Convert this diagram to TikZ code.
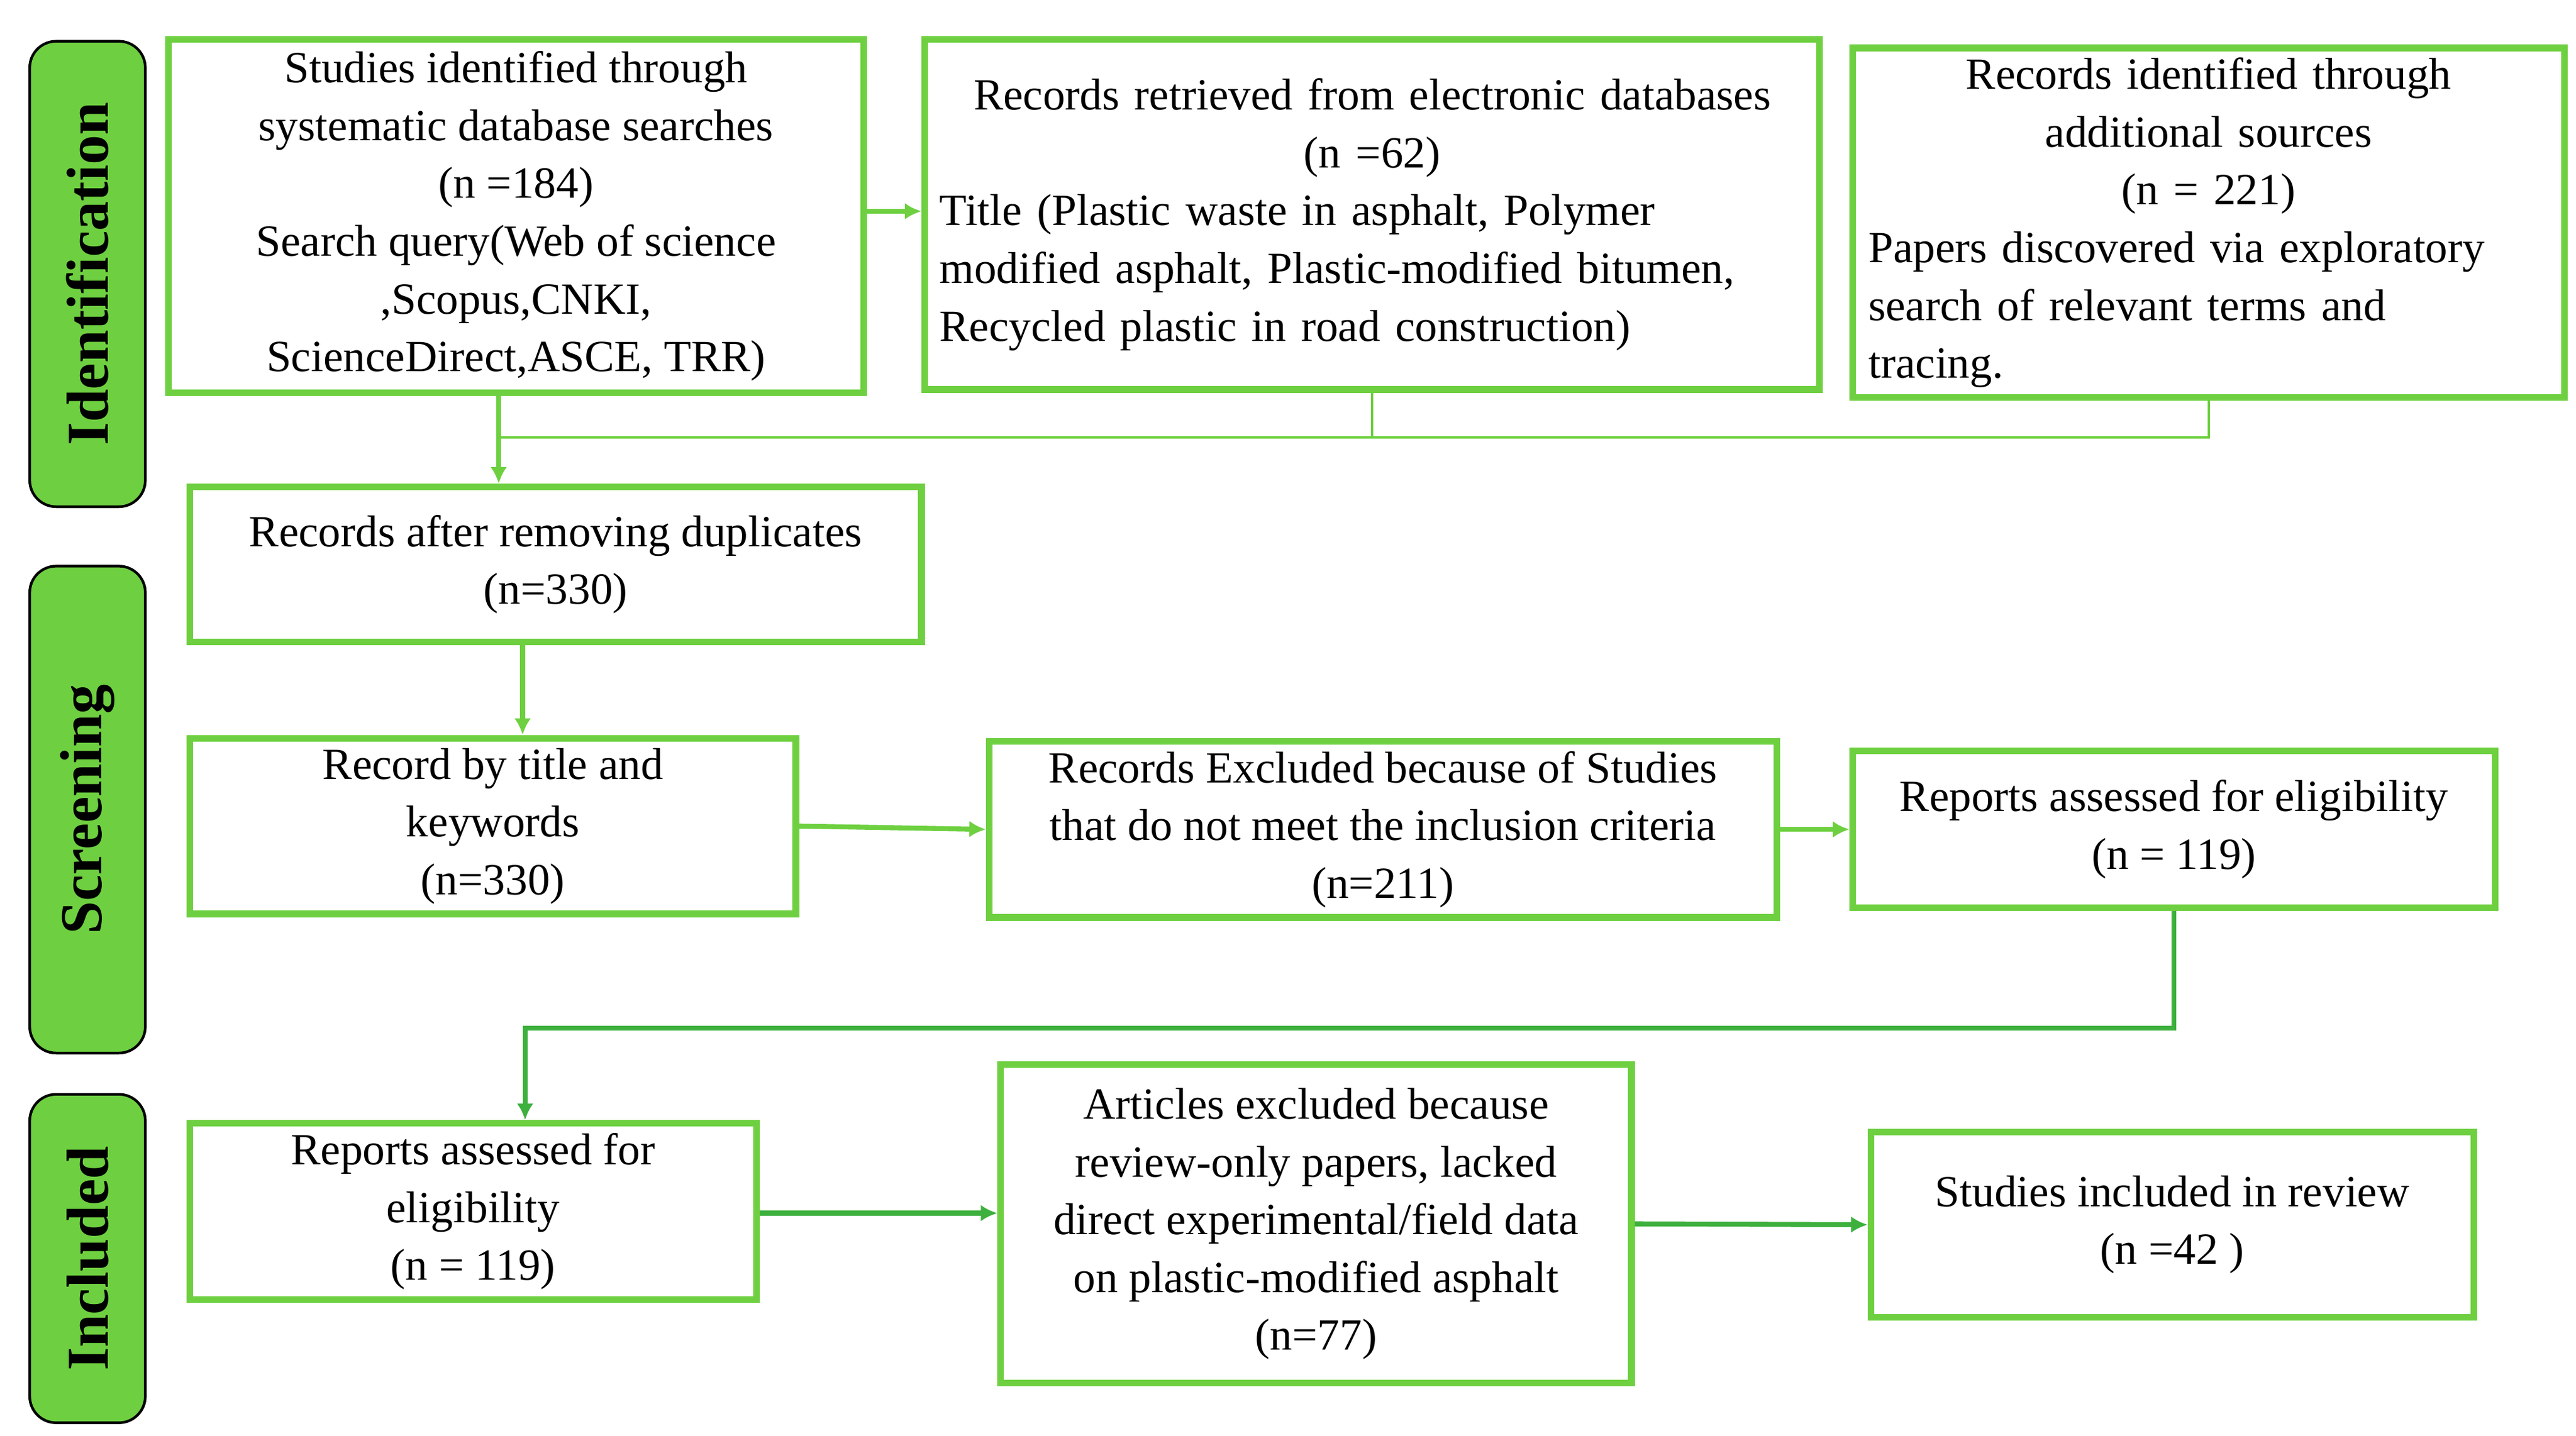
\documentclass[tikz,border=0pt]{standalone}
\usepackage{fontspec}
\setmainfont{Liberation Serif}
\usetikzlibrary{arrows.meta}
\definecolor{boxgreen}{RGB}{110,208,64}
\definecolor{linegreen}{RGB}{62,176,62}
\tikzset{
  box/.style={draw=boxgreen, line width=2pt, inner sep=3pt,
    font=\fontsize{13.5}{17.5}\selectfont, align=center},
  stage/.style={draw=black, fill=boxgreen, rounded corners=8pt, line width=0.8pt,
    minimum height=35pt, font=\fontsize{18}{20}\selectfont\bfseries, rotate=90},
  arr/.style={draw=boxgreen, line width=1.5pt, -{Latex[length=5pt,width=5pt]}},
}
\begin{document}
\begin{tikzpicture}[x=0.5pt,y=-0.5pt]
\useasboundingbox (0,0) rectangle (1560,870);

%stages
\node[stage, minimum width=141pt] at (53,166) (sid) {Identification};
\node[stage, minimum width=147.5pt] at (53,490.5) (sscr) {Screening};
\node[stage, minimum width=99.5pt] at (53,762.5) (sinc) {Included};

%boxes
\node[box, minimum width=210.5pt, minimum height=107pt] at (312.5,131) (ident)
  {Studies identified through\\ systematic database searches\\ (n =184)\\
   Search query(Web of science\\ ,Scopus,CNKI,\\ ScienceDirect,ASCE,\ TRR)};
\node[box, minimum width=271pt, minimum height=106pt, text width=262pt] at (831,130) (elec)
  {{\centering Records retrieved from electronic databases\par (n =62)\par}
   \raggedright Title (Plastic waste in asphalt, Polymer\\ modified asphalt, Plastic-modified bitumen,\\
   Recycled plastic in road construction)\par};
\node[box, minimum width=215.5pt, minimum height=103pt, text width=206pt] at (1337.5,135) (addl)
  {{\centering Records identified through\par additional sources\par (n = 221)\par}
   \raggedright Papers discovered via exploratory\\ search of relevant terms and\\ tracing.\par};
\node[box, minimum width=221.5pt, minimum height=47pt] at (336.5,342) (dup)
  {Records after removing duplicates\\ (n=330)};
\node[box, minimum width=183.5pt, minimum height=50.5pt] at (298.5,500.5) (title)
  {Record by title and\\ keywords\\ (n=330)};
\node[box, minimum width=238.5pt, minimum height=47.5pt] at (837.5,502.5) (excl)
  {Records Excluded because of Studies\\ that do not meet the inclusion criteria\\ (n=211)};
\node[box, minimum width=194.5pt, minimum height=47.5pt] at (1316.5,502.5) (elig)
  {Reports assessed for eligibility\\ (n = 119)};
\node[box, minimum width=171.5pt, minimum height=52pt] at (286.5,734) (elig2)
  {Reports assessed for\\ eligibility\\ (n = 119)};
\node[box, minimum width=191pt, minimum height=96.5pt] at (797,741.5) (art)
  {Articles excluded because\\ review-only papers, lacked\\ direct experimental/field data\\
   on plastic-modified asphalt\\ (n=77)};
\node[box, minimum width=182.5pt, minimum height=56pt] at (1315.5,742) (incl)
  {Studies included in review\\ (n =42 )};

%connectors
\coordinate (jn) at (302,265);
\coordinate (bend) at (318,623);
\draw[arr] ([yshift=1.5pt]ident.east) -- ([yshift=1.5pt]ident.east -| elec.west);
\draw[draw=boxgreen, line width=0.7pt] (elec.south) -- (elec.south |- jn) -- (jn);
\draw[draw=boxgreen, line width=0.7pt] (addl.south) -- (addl.south |- jn) -- (elec.south |- jn);
\draw[arr] (ident.south -| jn) -- (jn |- dup.north);
\draw[arr] ([xshift=-10pt]dup.south) -- ([xshift=-10pt]dup.south |- title.north);
\draw[arr] (title.east) -- (excl.west);
\draw[arr] (excl.east) -- (elig.west);
\draw[arr, draw=linegreen] (elig.south) |- (bend) -- (bend |- elig2.north);
\draw[arr, draw=linegreen] ([yshift=-0.5pt]elig2.east) -- ([yshift=-0.5pt]elig2.east -| art.west);
\draw[arr, draw=linegreen] (art.east) -- (incl.west);

\end{tikzpicture}
\end{document}
